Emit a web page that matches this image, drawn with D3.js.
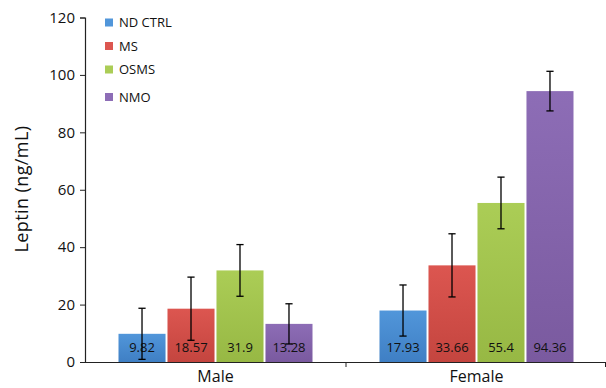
<!DOCTYPE html>
<html>
<head>
<meta charset="utf-8">
<script src="https://cdn.jsdelivr.net/npm/d3@7"></script>
<style>
  html, body { margin: 0; padding: 0; background: #fff; }
  svg { display: block; }
  text { font-family: "Open Sans", "Liberation Sans", Arial, sans-serif; fill: #111; }
</style>
</head>
<body>
<svg id="chart" width="606" height="388"></svg>
<script>
// ---- data ----
const groups = ["Male", "Female"];
const series = ["ND CTRL", "MS", "OSMS", "NMO"];
const maleValues = [9.82, 18.57, 31.9, 13.28];
const femaleValues = [17.93, 33.66, 55.4, 94.36];
const maleErrors = [8.9, 11.0, 9.0, 7.0];
const femaleErrors = [8.9, 11.0, 9.0, 6.9];
const valueLabels = [["9.82", "18.57", "31.9", "13.28"], ["17.93", "33.66", "55.4", "94.36"]];
const yTicks = [0, 20, 40, 60, 80, 100, 120];
const colorsTop = ["#5196da", "#dc5650", "#abcd56", "#8d6db6"];
const colorsBottom = ["#3f7fc4", "#c4453f", "#97b844", "#7a5a9f"];

const values = [maleValues, femaleValues];
const errors = [maleErrors, femaleErrors];

(function () {
const svg = d3.select("#chart");
const padL = 85, padR = 607, padT = 17.5, padB = 362;

const x = d3.scaleBand().domain(groups).range([padL, padR]).padding(0);
const y = d3.scaleLinear().domain([0, 120]).range([padB, padT]);
const groupPad = 33.5;
const xs = d3.scaleBand().domain(series).range([groupPad, x.bandwidth() - groupPad]).paddingInner(0.04);

// gradients
const defs = svg.append("defs");
series.forEach((s, i) => {
  const g = defs.append("linearGradient").attr("id", "grad" + i)
    .attr("x1", 0).attr("y1", 0).attr("x2", 0).attr("y2", 1);
  g.append("stop").attr("offset", "0%").attr("stop-color", colorsTop[i]);
  g.append("stop").attr("offset", "100%").attr("stop-color", colorsBottom[i]);
});

// data table
const rows = [];
groups.forEach((g, gi) => {
  series.forEach((s, si) => {
    rows.push({ g, gi, s, si, v: values[gi][si], e: errors[gi][si], label: valueLabels[gi][si] });
  });
});

// bars
const barG = svg.append("g");
barG.selectAll("rect.bar").data(rows).join("rect")
  .attr("class", "bar")
  .attr("x", d => x(d.g) + xs(d.s))
  .attr("y", d => y(d.v))
  .attr("width", xs.bandwidth())
  .attr("height", d => y(0) - y(d.v))
  .attr("fill", d => "url(#grad" + d.si + ")");

// value labels
barG.selectAll("text.val").data(rows).join("text")
  .attr("class", "val")
  .attr("x", d => x(d.g) + xs(d.s) + xs.bandwidth() / 2)
  .attr("y", 352)
  .attr("text-anchor", "middle")
  .style("font-size", "13px")
  .text(d => d.label);

// error bars
const eb = svg.append("g").attr("stroke", "#000").attr("stroke-width", 1.3);
rows.forEach(d => {
  const cx = x(d.g) + xs(d.s) + xs.bandwidth() / 2;
  const y1 = y(d.v + d.e), y2 = y(d.v - d.e);
  eb.append("line").attr("x1", cx).attr("x2", cx).attr("y1", y1).attr("y2", y2);
  eb.append("line").attr("x1", cx - 3.6).attr("x2", cx + 3.6).attr("y1", y1).attr("y2", y1);
  eb.append("line").attr("x1", cx - 3.6).attr("x2", cx + 3.6).attr("y1", y2).attr("y2", y2);
});

// y axis
const yAxis = d3.axisLeft(y).tickValues(yTicks).tickSize(5).tickPadding(5).tickFormat(d3.format("d"));
const yg = svg.append("g").attr("transform", `translate(${padL},0)`).call(yAxis);
yg.select(".domain").attr("stroke", "#222").attr("stroke-width", 1.2);
yg.selectAll(".tick line").attr("stroke", "#222");
yg.selectAll(".tick text").style("font-size", "15px").attr("fill", "#111");

// x axis
const xAxis = d3.axisBottom(x).tickSize(0).tickPadding(0);
const xg = svg.append("g").attr("transform", `translate(0,${padB})`).call(xAxis);
xg.select(".domain").attr("stroke", "#222").attr("stroke-width", 1.2);
xg.selectAll(".tick text").style("font-size", "16px").attr("fill", "#111")
  .attr("y", 20).attr("dy", null);
const bounds = [x("Female"), padR - 1.5];
xg.selectAll("line.bnd").data(bounds).join("line").attr("class", "bnd")
  .attr("x1", d => d).attr("x2", d => d).attr("y1", 0).attr("y2", 5).attr("stroke", "#222");

// y title
svg.append("text")
  .attr("transform", `translate(28,189) rotate(-90)`)
  .attr("text-anchor", "middle")
  .style("font-size", "18px")
  .style("letter-spacing", "0.4px")
  .text("Leptin (ng/mL)");

// legend
const legendY = [22.5, 46, 69.5, 97];
const lg = svg.append("g");
series.forEach((s, i) => {
  lg.append("rect").attr("x", 105).attr("y", legendY[i] - 4).attr("width", 8).attr("height", 8)
    .attr("fill", colorsTop[i]);
  lg.append("text").attr("x", 119).attr("y", legendY[i]).attr("dy", "0.35em")
    .style("font-size", "13px").text(s);
});
})();
</script>
</body>
</html>
